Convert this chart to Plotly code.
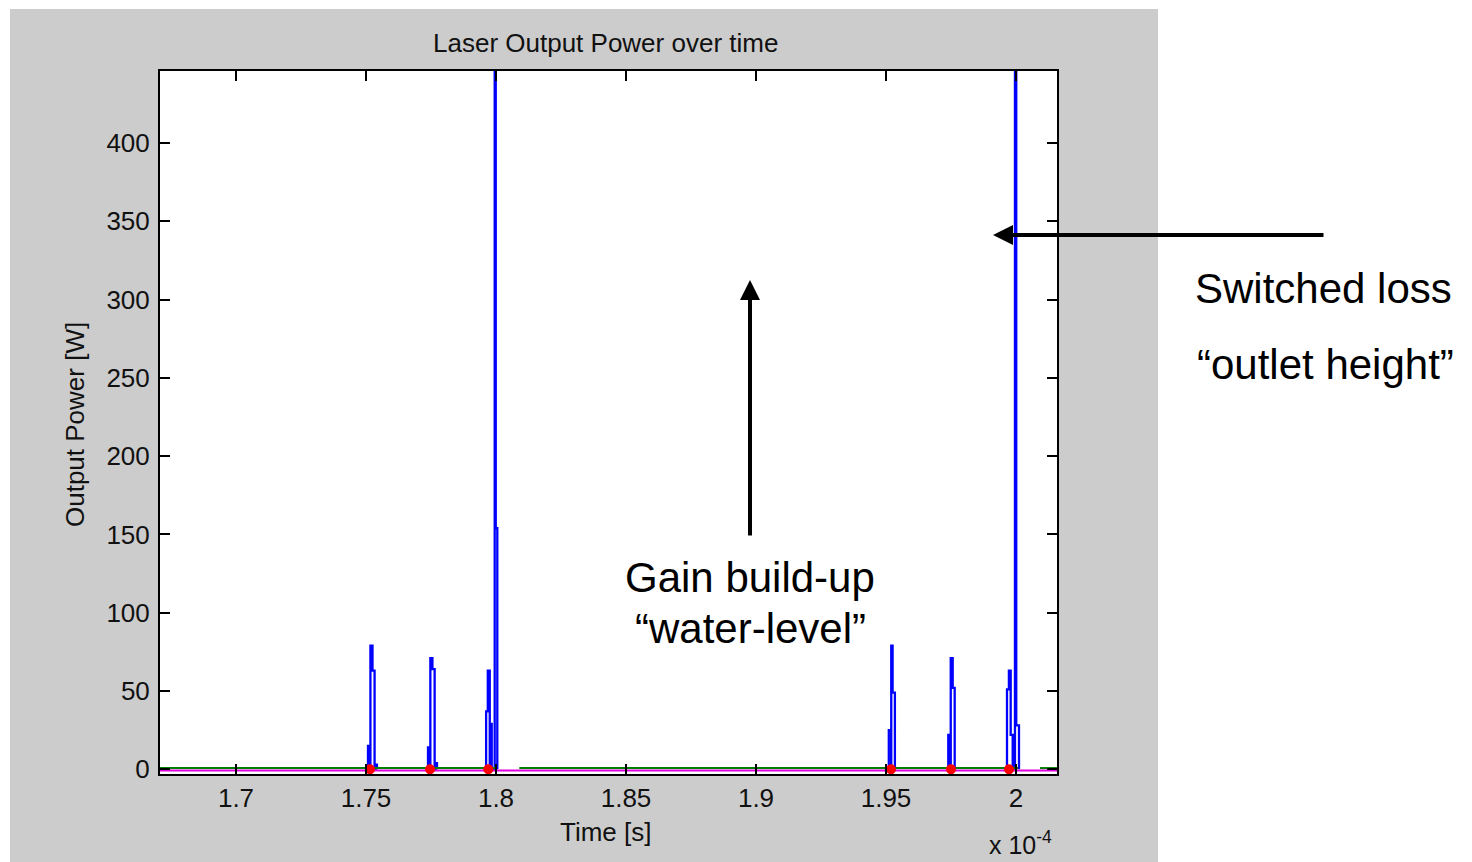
import plotly.graph_objects as go

# ---------------- data (time in units of 1e-4 s, power in W) ----------------
pulse_groups_t = [
    [1.75000, 1.75077, 1.75165, 1.75170, 1.75250, 1.75330, 1.75370, 1.75420],
    [1.77330, 1.77385, 1.77470, 1.77475, 1.77555, 1.77640, 1.77680, 1.77730],
    [1.79580, 1.79620, 1.79685, 1.79760, 1.79765, 1.79835, 1.79950, 1.79990, 1.80050],
    [1.95060, 1.95108, 1.95198, 1.95202, 1.95254, 1.95342],
    [1.97350, 1.97396, 1.97484, 1.97490, 1.97565, 1.97642],
    [1.99620, 1.99654, 1.99727, 1.99796, 1.99873, 1.99960, 2.00010, 2.00115],
]
pulse_groups_p = [
    [0, 15, 0, 79, 63, 0, 3, 0],
    [0, 14, 0, 71, 64, 0, 4, 0],
    [0, 37, 63, 0, 29, 0, 800, 154, 0],
    [0, 25, 0, 79, 49, 0],
    [0, 22, 0, 71, 52, 0],
    [0, 51, 63, 22, 0, 800, 28, 0],
]

# gain "water-level" reference line (green), with gaps after the big pulses
green_t = [1.6700, 1.80038, None, 1.80896, 2.00077, None, 2.00923, 2.0200]
green_p = [0.8, 0.8, None, 0.8, 0.8, None, 0.8, 0.8]

# switched-loss line (magenta)
magenta_t = [1.6700, 2.0200]
magenta_p = [-0.8, -0.8]

# trigger markers (red)
marker_t = [1.75154, 1.77462, 1.79704, 1.95192, 1.97500, 1.99731]
marker_p = [0, 0, 0, 0, 0, 0]

x_tick_vals = [1.70, 1.75, 1.80, 1.85, 1.90, 1.95, 2.00]
x_tick_text = ["1.7", "1.75", "1.8", "1.85", "1.9", "1.95", "2"]
y_tick_vals = [0, 50, 100, 150, 200, 250, 300, 350, 400]
y_tick_text = ["0", "50", "100", "150", "200", "250", "300", "350", "400"]

# ---------------- figure ----------------
blue_t, blue_p = [], []
for ts, ps in zip(pulse_groups_t, pulse_groups_p):
    blue_t += ts + [None]
    blue_p += ps + [None]

fig = go.Figure()
fig.add_trace(go.Scatter(x=blue_t, y=blue_p, mode="lines", line=dict(color="#0000ff", width=2.3, shape="hv"),
                         connectgaps=False, hoverinfo="skip"))
fig.add_trace(go.Scatter(x=green_t, y=green_p, mode="lines", line=dict(color="#008000", width=2),
                         connectgaps=False, hoverinfo="skip"))
fig.add_trace(go.Scatter(x=magenta_t, y=magenta_p, mode="lines", line=dict(color="#e000e0", width=2),
                         hoverinfo="skip"))
fig.add_trace(go.Scatter(x=marker_t, y=marker_p, mode="markers",
                         marker=dict(color="#ff0000", size=10, symbol="circle", line=dict(width=0)),
                         hoverinfo="skip"))

W, H = 1472, 862
L, R, T, B = 160, 1057, 71, 774
pw, ph = R - L, B - T


def px(x):
    return (x - L) / pw


def py(y):
    return 1 - (y - T) / ph


FONT = "Liberation Sans, Arial, Helvetica, sans-serif"
axis_common = dict(showline=True, linecolor="#000000", linewidth=2, mirror="ticks", ticks="inside",
                   ticklen=10, tickwidth=1.5, tickcolor="#000000", showgrid=False, zeroline=False,
                   tickfont=dict(family=FONT, size=26, color="#111111"))

fig.update_layout(
    width=W, height=H,
    margin=dict(l=L, r=W - R, t=T, b=H - B, pad=0),
    paper_bgcolor="#ffffff", plot_bgcolor="#ffffff",
    showlegend=False,
    xaxis=dict(range=[1.67077, 2.01577], tickvals=x_tick_vals, ticktext=x_tick_text, **axis_common),
    yaxis=dict(range=[-3, 446], tickvals=y_tick_vals, ticktext=y_tick_text, ticklabelstandoff=3,
               **axis_common),
    shapes=[
        dict(type="rect", xref="paper", yref="paper", x0=px(10), x1=px(1158), y0=py(862), y1=py(9),
             fillcolor="#cccccc", line=dict(width=0), layer="below"),
        dict(type="rect", xref="paper", yref="paper", x0=0, x1=1, y0=0, y1=1,
             fillcolor="#ffffff", line=dict(width=0), layer="below"),
    ],
)

ann = []
ann.append(dict(text="Laser Output Power over time", x=px(605), y=py(43), xref="paper", yref="paper",
                showarrow=False, xanchor="center", yanchor="middle",
                font=dict(family=FONT, size=26, color="#111111")))
ann.append(dict(text="Output Power [W]", x=px(75), y=py(425), xref="paper", yref="paper", textangle=-90,
                showarrow=False, xanchor="center", yanchor="middle",
                font=dict(family=FONT, size=26, color="#111111")))
ann.append(dict(text="Time [s]", x=px(605), y=py(832), xref="paper", yref="paper",
                showarrow=False, xanchor="center", yanchor="middle",
                font=dict(family=FONT, size=26, color="#111111")))
ann.append(dict(text="x 10<sup>-4</sup>", x=px(987), y=py(843), xref="paper", yref="paper",
                showarrow=False, xanchor="left", yanchor="middle",
                font=dict(family=FONT, size=25, color="#111111")))

big = dict(family=FONT, size=42, color="#000000")
ann.append(dict(text="Switched loss", x=px(1193), y=py(288), xref="paper", yref="paper",
                showarrow=False, xanchor="left", yanchor="middle", font=big))
ann.append(dict(text="\u201coutlet height\u201d", x=px(1195), y=py(364), xref="paper", yref="paper",
                showarrow=False, xanchor="left", yanchor="middle", font=big))
ann.append(dict(text="Gain build-up", x=px(750), y=py(577), xref="paper", yref="paper",
                showarrow=False, xanchor="center", yanchor="middle", font=big))
ann.append(dict(text="\u201cwater-level\u201d", x=px(750), y=py(628), xref="paper", yref="paper",
                showarrow=False, xanchor="center", yanchor="middle", font=big))

# arrows
ann.append(dict(text="", x=px(993), y=py(235), xref="paper", yref="paper", showarrow=True,
                ax=332, ay=0, arrowhead=2, arrowsize=1, arrowwidth=4, arrowcolor="#000000", standoff=0))
ann.append(dict(text="", x=px(750), y=py(280), xref="paper", yref="paper", showarrow=True,
                ax=0, ay=257, arrowhead=2, arrowsize=1, arrowwidth=4, arrowcolor="#000000", standoff=0))

fig.update_layout(annotations=ann)
fig.write_html("out.html")
